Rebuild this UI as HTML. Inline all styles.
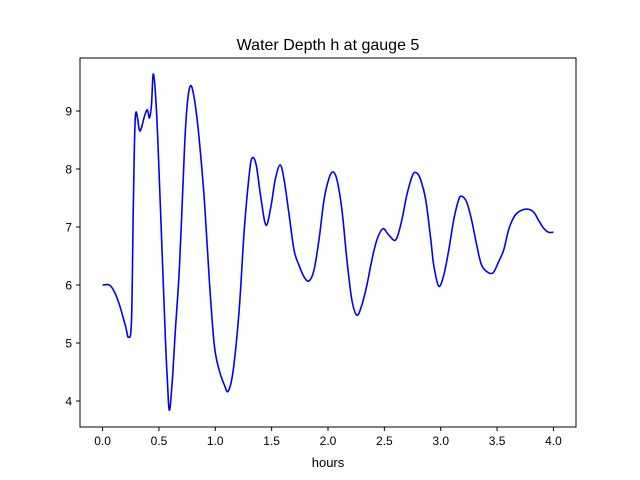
<!DOCTYPE html>
<html><head><meta charset="utf-8"><style>
body{margin:0;background:#fff;}
svg{display:block;font-family:"Liberation Sans","DejaVu Sans",sans-serif;}
</style></head><body>
<svg id="chart" width="640" height="480">
<rect width="640" height="480" fill="#fff"/>
<text x="328" y="50" text-anchor="middle" font-size="16">Water Depth h at gauge 5</text>
<g id="plot"></g>
<rect x="80" y="58" width="496" height="369" fill="none" stroke="#000" stroke-width="1"/>
<text x="328" y="467" text-anchor="middle" font-size="13">hours</text>
</svg>
<script>
const times=[0,0.062,0.106,0.150,0.204,0.230,0.257,0.274,0.292,0.327,0.345,0.372,0.398,0.416,0.434,0.451,0.478,0.504,0.531,0.558,0.575,0.593,0.619,0.646,0.681,0.708,0.735,0.761,0.788,0.823,0.858,0.903,0.947,0.991,1.035,1.080,1.115,1.159,1.212,1.257,1.301,1.327,1.363,1.407,1.451,1.496,1.531,1.575,1.611,1.655,1.699,1.743,1.788,1.832,1.876,1.920,1.965,2.009,2.044,2.080,2.124,2.168,2.212,2.257,2.301,2.345,2.389,2.434,2.487,2.540,2.602,2.655,2.699,2.752,2.788,2.823,2.867,2.912,2.938,2.982,3.027,3.071,3.115,3.159,3.186,3.230,3.274,3.319,3.363,3.425,3.469,3.513,3.558,3.602,3.646,3.690,3.761,3.823,3.867,3.912,3.956,4.0];
const depths=[6.0,6.0,5.88,5.66,5.29,5.10,5.40,7.47,8.93,8.67,8.71,8.91,9.02,8.88,9.10,9.64,9.02,7.81,6.43,5.05,4.36,3.84,4.36,5.22,6.26,7.47,8.67,9.28,9.43,9.10,8.50,7.47,6.09,4.97,4.53,4.28,4.17,4.53,5.57,6.95,7.90,8.19,8.07,7.47,7.03,7.38,7.81,8.07,7.81,7.21,6.60,6.34,6.14,6.07,6.26,6.78,7.47,7.84,7.95,7.81,7.29,6.43,5.74,5.48,5.66,6.00,6.43,6.78,6.97,6.86,6.78,7.12,7.55,7.90,7.93,7.81,7.47,6.78,6.34,5.98,6.17,6.60,7.12,7.47,7.53,7.43,7.12,6.69,6.34,6.21,6.22,6.40,6.60,6.95,7.16,7.26,7.31,7.26,7.12,6.98,6.91,6.91];
const xTicks=[0,0.5,1,1.5,2,2.5,3,3.5,4];
const xTickLabels=["0.0","0.5","1.0","1.5","2.0","2.5","3.0","3.5","4.0"];
const yTicks=[4,5,6,7,8,9];
const yTickLabels=["4","5","6","7","8","9"];
const X0=80,X1=576,Y0=427,Y1=58,xmin=-0.2,xmax=4.2,ymin=3.552,ymax=9.914;
const sx=v=>X0+(v-xmin)/(xmax-xmin)*(X1-X0);
const sy=v=>Y0-(v-ymin)/(ymax-ymin)*(Y0-Y1);
const NS="http://www.w3.org/2000/svg";
const g=document.getElementById('plot');
function mk(t,a){const e=document.createElementNS(NS,t);for(const k in a)e.setAttribute(k,a[k]);return e;}
xTicks.forEach((v,i)=>{
 const l=mk('line',{x1:sx(v),x2:sx(v),y1:Y0,y2:Y0+4,stroke:'#000'});
 
 
 g.appendChild(l);
 const t=mk('text',{x:sx(v),y:Y0+18,'text-anchor':'middle','font-size':'12'});
 
 
 t.textContent=xTickLabels[i];g.appendChild(t);
});
yTicks.forEach((v,i)=>{
 const l=mk('line',{x1:X0-4,x2:X0,y1:sy(v),y2:sy(v),stroke:'#000'});
 
 
 g.appendChild(l);
 const t=mk('text',{x:X0-8,y:sy(v)+4.5,'text-anchor':'end','font-size':'12'});
 
 
 t.textContent=yTickLabels[i];g.appendChild(t);
});
const P=times.map((t,i)=>[sx(t),sy(depths[i])]);
let d='M'+P[0][0]+','+P[0][1];
for(let i=0;i<P.length-1;i++){
 const p0=P[Math.max(0,i-1)],p1=P[i],p2=P[i+1],p3=P[Math.min(P.length-1,i+2)];
 const c1=[p1[0]+(p2[0]-p0[0])/6,p1[1]+(p2[1]-p0[1])/6];
 const c2=[p2[0]-(p3[0]-p1[0])/6,p2[1]-(p3[1]-p1[1])/6];
 d+=`C${c1[0]},${c1[1]} ${c2[0]},${c2[1]} ${p2[0]},${p2[1]}`;
}
const path=mk('path',{d:d,fill:'none',stroke:'#0000ff','stroke-width':'1.6','stroke-linejoin':'round'});


g.appendChild(path);
</script>
</body></html>
